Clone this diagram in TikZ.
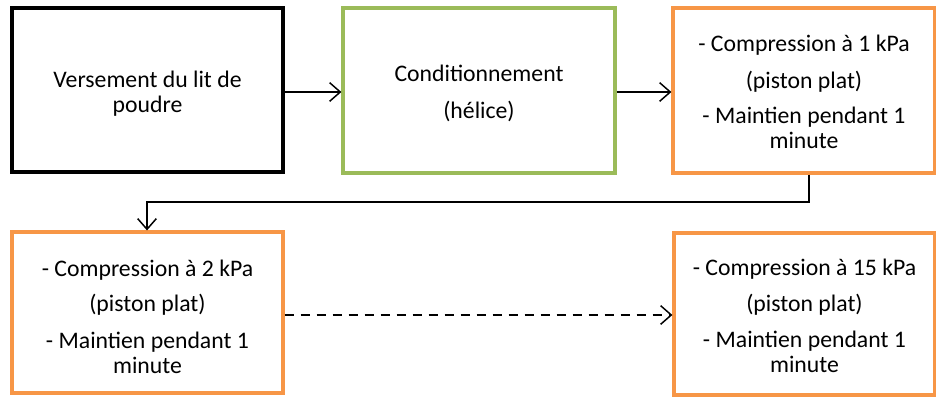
\documentclass[tikz,border=0pt]{standalone}
\usepackage{fontspec}
\setmainfont{Carlito}
\usetikzlibrary{arrows.meta}
\definecolor{boxgreen}{HTML}{9BBB59}
\definecolor{boxorange}{HTML}{F79646}
\tikzset{
  stepbox/.style={draw, rectangle, inner sep=0pt},
  blackbox/.style={stepbox, line width=3pt, draw=black},
  greenbox/.style={stepbox, line width=2.4pt, draw=boxgreen},
  orangebox/.style={stepbox, line width=2.4pt, draw=boxorange},
  boxtext/.style={align=center, inner sep=0pt, font=\fontsize{17.8}{18.75}\selectfont},
  conn/.style={line width=1.1pt, -{Straight Barb[length=8pt,width=14pt,line width=1.1pt]}},
}
\begin{document}
\begin{tikzpicture}[x=0.75pt,y=-0.75pt]
\useasboundingbox (0,0) rectangle (936,398);
\node[blackbox, minimum width=271*0.75pt, minimum height=164*0.75pt] (b1) at (147.5,90.5) {};
\node[boxtext] at (147.5,94) (t1) {Versement du lit de\\poudre};
\node[greenbox, minimum width=272*0.75pt, minimum height=165*0.75pt] (b2) at (479,90.5) {};
\node[boxtext] at (479,93) (t2) {Conditionnement\\[9pt](hélice)};
\node[orangebox, minimum width=262*0.75pt, minimum height=165*0.75pt] (b3) at (804,90.5) {};
\node[boxtext] at (804,92) (t3) {- Compression à 1 kPa\\[9.5pt](piston plat)\\[7.5pt]- Maintien pendant 1\\minute};
\node[orangebox, minimum width=271*0.75pt, minimum height=161*0.75pt] (b4) at (147.5,312.5) {};
\node[boxtext] at (147.5,317) (t4) {- Compression à 2 kPa\\[7.5pt](piston plat)\\[9.5pt]- Maintien pendant 1\\minute};
\node[orangebox, minimum width=261*0.75pt, minimum height=162*0.75pt] (b5) at (804.5,314) {};
\node[boxtext] at (804.5,316) (t5) {- Compression à 15 kPa\\[8pt](piston plat)\\[8.5pt]- Maintien pendant 1\\minute};
\coordinate (c1) at (809,202);
\coordinate (c2) at (147,202);
\draw[conn] (b1.east |- 0,92) -- (b2.west |- 0,92);
\draw[conn] (b2.east |- 0,92) -- (b3.west |- 0,92);
\draw[conn] (b3.south -| c1) -- (c1) -- (c2) -- (b4.north -| c2);
\draw[conn, dashed, dash pattern=on 7pt off 5pt] (b4.east |- 0,315) -- (b5.west |- 0,315);
\end{tikzpicture}
\end{document}
